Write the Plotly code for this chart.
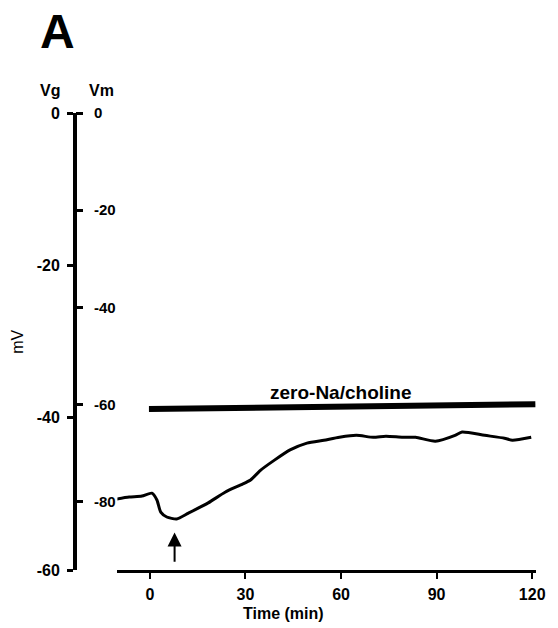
import plotly.graph_objects as go

# ---- data ----
time_min = [-10.5, -6.5, -2.5, 0.6, 2.2, 3.4, 5.3, 8.4, 12.1, 18.3, 23.6, 28.5, 31.6,
            34.7, 39.1, 44.0, 49.3, 54.6, 59.5, 64.8, 70.1, 74.1, 79.4, 83.4, 89.6,
            95.8, 98.0, 105.1, 111.3, 113.8, 119.7]
vm_mv = [-79.4, -79.0, -78.8, -78.2, -79.6, -82.1, -83.1, -83.5, -82.3, -80.2, -78.0,
         -76.5, -75.5, -73.5, -71.4, -69.3, -67.9, -67.3, -66.7, -66.3, -66.7, -66.5,
         -66.7, -66.7, -67.5, -66.3, -65.6, -66.3, -66.9, -67.3, -66.7]

bar_t = [-0.3, 60, 121.0]
bar_v = [-60.9, -60.4, -59.9]
bar_label = "zero-Na/choline"

arrow_t = 7.75
arrow_tip_v = -86.3
arrow_tail_v = -92.6

x_ticks = [0, 30, 60, 90, 120]
vg_ticks = [0, -20, -40, -60]
vg_ticktext = ["0", "-20", "-40", "-60"]
vm_ticks = [0, -20, -40, -60, -80]
vm_ticktext = ["0", "-20", "-40", "-60", "-80"]

FONT = "Liberation Sans, Arial, sans-serif"

fig = go.Figure()
# invisible trace on Vg axis so the base subplot exists
fig.add_trace(go.Scatter(x=[None], y=[None], yaxis="y", xaxis="x",
                         showlegend=False, hoverinfo="skip"))
fig.add_trace(go.Scatter(x=time_min, y=vm_mv, yaxis="y2", mode="lines",
                         line=dict(color="black", width=3, shape="spline", smoothing=0.6),
                         showlegend=False, cliponaxis=False))
fig.add_trace(go.Scatter(x=bar_t, y=bar_v, yaxis="y2", mode="lines",
                         line=dict(color="black", width=6),
                         showlegend=False, cliponaxis=False))

fig.update_layout(
    width=558, height=628,
    margin=dict(l=75, r=16, t=113, b=58),
    paper_bgcolor="white", plot_bgcolor="white",
    font=dict(family=FONT, color="black"),
    xaxis=dict(domain=[0.092, 1.0], range=[-10.2, 121.2],
               showline=True, linecolor="black", linewidth=3,
               ticks="outside", ticklen=6, tickwidth=2, tickcolor="black",
               tickvals=x_ticks, ticktext=[str(v) for v in x_ticks],
               tickfont=dict(size=16, weight="bold"), ticklabelstandoff=2,
               showgrid=False, zeroline=False, fixedrange=True),
    yaxis=dict(range=[-60, 0], anchor="free", position=0.0, side="left",
               showline=True, linecolor="black", linewidth=4,
               ticks="outside", ticklen=6, tickwidth=3, tickcolor="black",
               tickvals=vg_ticks, ticktext=vg_ticktext,
               tickfont=dict(size=16, weight="bold"), ticklabelstandoff=4,
               showgrid=False, zeroline=False),
    yaxis2=dict(range=[-94.0, 0], overlaying="y", anchor="free", position=0.0,
                side="right", showline=False,
                ticks="outside", ticklen=7, tickwidth=3, tickcolor="black",
                tickvals=vm_ticks, ticktext=vm_ticktext,
                tickfont=dict(size=15, weight="bold"), ticklabelstandoff=8,
                showgrid=False, zeroline=False),
)

annotations = [
    dict(text="A", x=-0.0385, y=(570 - 31) / 457, xref="paper", yref="paper",
         showarrow=False, font=dict(size=48, weight="bold"),
         xanchor="center", yanchor="middle"),
    dict(text="Vg", x=-0.0535, y=1.050, xref="paper", yref="paper",
         showarrow=False, font=dict(size=16, weight="bold"),
         xanchor="center", yanchor="middle"),
    dict(text="Vm", x=0.0578, y=1.050, xref="paper", yref="paper",
         showarrow=False, font=dict(size=16, weight="bold"),
         xanchor="center", yanchor="middle"),
    dict(text="mV", x=-0.124, y=0.499, xref="paper", yref="paper",
         showarrow=False, font=dict(size=16), textangle=-90,
         xanchor="center", yanchor="middle"),
    dict(text="Time (min)", x=0.452, y=-(613 - 570) / 457, xref="paper", yref="paper",
         showarrow=False, font=dict(size=16, weight="bold"),
         xanchor="center", yanchor="middle"),
    dict(text=bar_label, x=59.8, y=-57.4, xref="x", yref="y2",
         showarrow=False, font=dict(size=19, weight="bold"),
         xanchor="center", yanchor="middle"),
    dict(text="", x=arrow_t, y=arrow_tip_v, xref="x", yref="y2",
         ax=arrow_t, ay=arrow_tail_v, axref="x", ayref="y2",
         showarrow=True, arrowhead=2, arrowsize=1.4, arrowwidth=2,
         arrowcolor="black"),
]
fig.update_layout(annotations=annotations)

fig.write_html("out.html")
